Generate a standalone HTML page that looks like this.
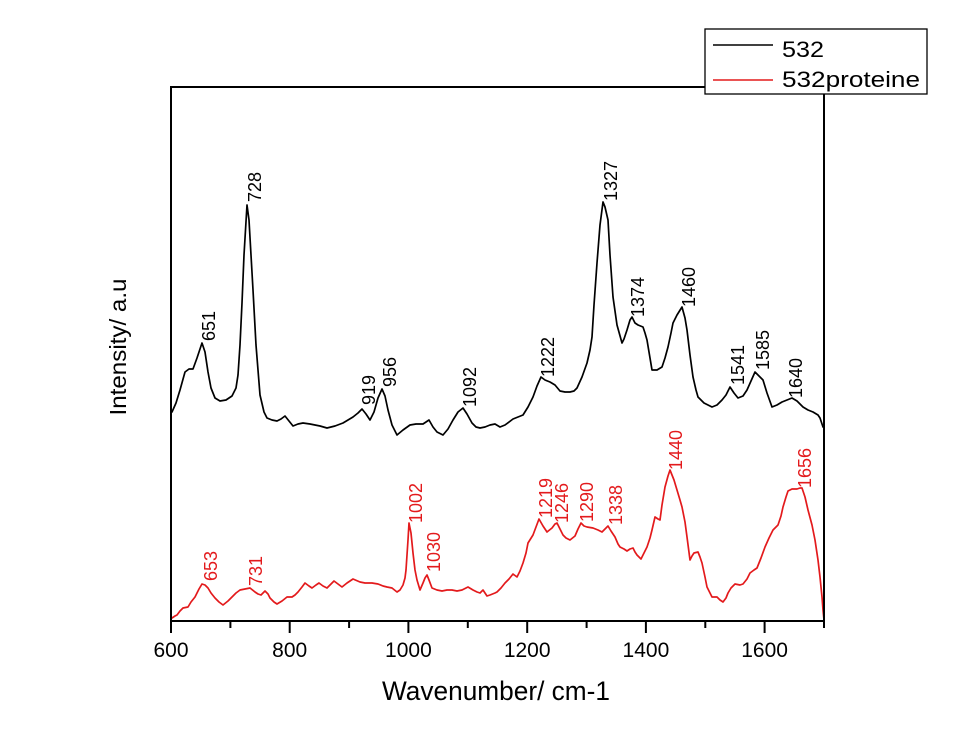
<!DOCTYPE html>
<html>
<head>
<meta charset="utf-8">
<style>
html,body{margin:0;padding:0;background:#fff;}
svg{display:block;}
text{font-family:"Liberation Sans",Arial,sans-serif;}
</style>
</head>
<body>
<svg width="957" height="745" viewBox="0 0 957 745" xmlns="http://www.w3.org/2000/svg">
<rect x="0" y="0" width="957" height="745" fill="#fff"/>

<!-- black spectrum -->
<polyline fill="none" stroke="#000" stroke-width="1.7" stroke-linejoin="round" stroke-linecap="round" points="172,412 176,403 180,390 185,372 189,369 193,369 197,358 202,343 205,352 208,372 211,388 215,398 220,401 226,400 232,396 236,388 238,375 240,345 242,303 244,255 247,205 249,220 251,255 253,290 256,345 260,395 264,412 267,418 272,420 277,421 281,419 285,416 289,421 293,426 298,424 303,423 310,424 320,426 327,428 335,426 343,423 353,417 358,413 362,409 366,414 370,420 374,412 378,398 382,389 385,396 388,410 392,425 397,435 403,430 410,425 416,424 423,424 429,420 433,427 437,432 443,435 448,429 453,420 458,412 463,408 467,414 472,423 476,427 480,428 485,427 490,425 495,424 500,427 505,425 513,419 518,417 523,415 528,407 533,397 537,386 541,377 545,380 550,382 555,385 560,391 565,392 570,392 574,391 577,388 582,377 587,363 590,350 592,337 594,305 597,263 600,225 603,202 605,207 608,220 610,255 613,297 617,325 622,343 624,339 627,330 630,320 632,317 635,323 638,325 643,327 645,333 647,340 650,358 652,370 657,370 662,367 665,358 668,347 671,333 673,323 677,315 682,307 685,318 687,330 690,355 693,377 696,390 698,397 704,403 712,407 717,405 722,400 726,395 730,387 734,393 738,398 743,396 747,390 751,381 755,372 759,376 763,380 767,393 772,407 777,405 782,402 787,400 792,398 797,401 803,407 808,410 813,412 818,415 820,418 823,427"/>

<!-- red spectrum -->
<polyline fill="none" stroke="#e31a1c" stroke-width="1.7" stroke-linejoin="round" stroke-linecap="round" points="172,618 175,616 177,615 180,611 183,608 188,607 191,602 195,597 199,589 202,584 205,585 208,588 211,593 215,598 219,602 223,605 228,601 232,597 236,593 240,590 245,589 250,588 255,592 258,594 261,595 265,591 268,594 270,598 274,602 277,604 282,601 287,597 292,597 295,595 298,592 302,587 305,583 309,586 312,588 316,585 319,583 323,586 327,588 331,584 334,581 338,584 342,587 347,583 353,579 360,582 365,583 372,583 378,584 383,586 387,587 392,588 397,592 400,590 403,585 405,578 406,570 408,540 409,523 411,533 413,553 415,570 417,580 420,590 423,583 425,578 427,575 429,580 432,588 437,590 442,591 447,590 452,590 457,591 462,590 468,587 473,590 477,592 480,593 483,590 487,596 490,595 495,593 497,592 501,588 505,583 509,579 513,574 517,577 520,571 523,563 526,553 528,543 533,535 536,527 539,519 543,526 547,532 552,528 555,524 557,523 560,529 563,535 566,538 570,540 575,536 578,529 581,523 584,526 587,527 593,528 598,530 602,532 605,529 608,526 611,531 615,537 618,544 620,547 624,549 627,551 630,549 633,548 635,552 637,555 641,559 644,553 647,547 650,538 652,530 655,517 658,519 660,520 662,505 665,487 668,476 670,470 674,480 677,490 680,500 682,507 685,522 687,537 690,560 692,556 694,553 698,552 700,557 702,563 705,577 707,587 712,597 717,597 720,600 723,602 726,598 728,593 731,588 735,584 740,585 743,584 747,579 750,573 754,570 757,568 761,558 765,547 769,538 773,530 778,525 781,516 783,507 786,497 788,491 792,489 797,489 800,488 802,488 805,497 808,510 812,525 815,540 818,560 820,577 822,597 823,610 824,620"/>

<!-- frame -->
<rect x="171" y="87" width="653" height="534" fill="none" stroke="#000" stroke-width="2"/>

<!-- ticks -->
<g stroke="#000" stroke-width="2">
<line x1="171" y1="621" x2="171" y2="633"/>
<line x1="289.7" y1="621" x2="289.7" y2="633"/>
<line x1="408.4" y1="621" x2="408.4" y2="633"/>
<line x1="527.2" y1="621" x2="527.2" y2="633"/>
<line x1="645.9" y1="621" x2="645.9" y2="633"/>
<line x1="764.6" y1="621" x2="764.6" y2="633"/>
<line x1="230.4" y1="621" x2="230.4" y2="628"/>
<line x1="349.1" y1="621" x2="349.1" y2="628"/>
<line x1="467.8" y1="621" x2="467.8" y2="628"/>
<line x1="586.6" y1="621" x2="586.6" y2="628"/>
<line x1="705.3" y1="621" x2="705.3" y2="628"/>
<line x1="824" y1="621" x2="824" y2="628"/>
</g>

<!-- tick labels -->
<g font-size="21" fill="#000" text-anchor="middle">
<text x="171" y="657">600</text>
<text x="289.7" y="657">800</text>
<text x="408.4" y="657">1000</text>
<text x="527.2" y="657">1200</text>
<text x="645.9" y="657">1400</text>
<text x="764.6" y="657">1600</text>
</g>

<!-- axis titles -->
<text x="496" y="700" font-size="26.5" text-anchor="middle" fill="#000" textLength="228" lengthAdjust="spacingAndGlyphs">Wavenumber/ cm-1</text>
<text transform="translate(126,347) rotate(-90)" font-size="23.5" text-anchor="middle" fill="#000" textLength="137" lengthAdjust="spacingAndGlyphs">Intensity/ a.u</text>

<!-- black peak labels -->
<g font-size="18" fill="#000">
<text transform="translate(215,341) rotate(-90)">651</text>
<text transform="translate(261,202) rotate(-90)">728</text>
<text transform="translate(375,405) rotate(-90)">919</text>
<text transform="translate(396,387) rotate(-90)">956</text>
<text transform="translate(476,407) rotate(-90)">1092</text>
<text transform="translate(554,377) rotate(-90)">1222</text>
<text transform="translate(617,201) rotate(-90)">1327</text>
<text transform="translate(644,317) rotate(-90)">1374</text>
<text transform="translate(695,307) rotate(-90)">1460</text>
<text transform="translate(744,385) rotate(-90)">1541</text>
<text transform="translate(769,370) rotate(-90)">1585</text>
<text transform="translate(802,398) rotate(-90)">1640</text>
</g>

<!-- red peak labels -->
<g font-size="18" fill="#e31a1c">
<text transform="translate(217,581) rotate(-90)">653</text>
<text transform="translate(262,586) rotate(-90)">731</text>
<text transform="translate(422,523) rotate(-90)">1002</text>
<text transform="translate(440,572) rotate(-90)">1030</text>
<text transform="translate(552,518) rotate(-90)">1219</text>
<text transform="translate(568,523) rotate(-90)">1246</text>
<text transform="translate(593,522) rotate(-90)">1290</text>
<text transform="translate(622,525) rotate(-90)">1338</text>
<text transform="translate(682,470) rotate(-90)">1440</text>
<text transform="translate(811,488) rotate(-90)">1656</text>
</g>

<!-- legend -->
<rect x="705" y="29" width="222" height="65" fill="#fff" stroke="#000" stroke-width="1.3"/>
<line x1="713" y1="45" x2="773" y2="45" stroke="#000" stroke-width="1.6"/>
<line x1="713" y1="80" x2="773" y2="80" stroke="#e31a1c" stroke-width="1.6"/>
<text x="782" y="57" font-size="22" fill="#000" textLength="42" lengthAdjust="spacingAndGlyphs">532</text>
<text x="782" y="87" font-size="22" fill="#000" textLength="138" lengthAdjust="spacingAndGlyphs">532proteine</text>
</svg>
</body>
</html>
